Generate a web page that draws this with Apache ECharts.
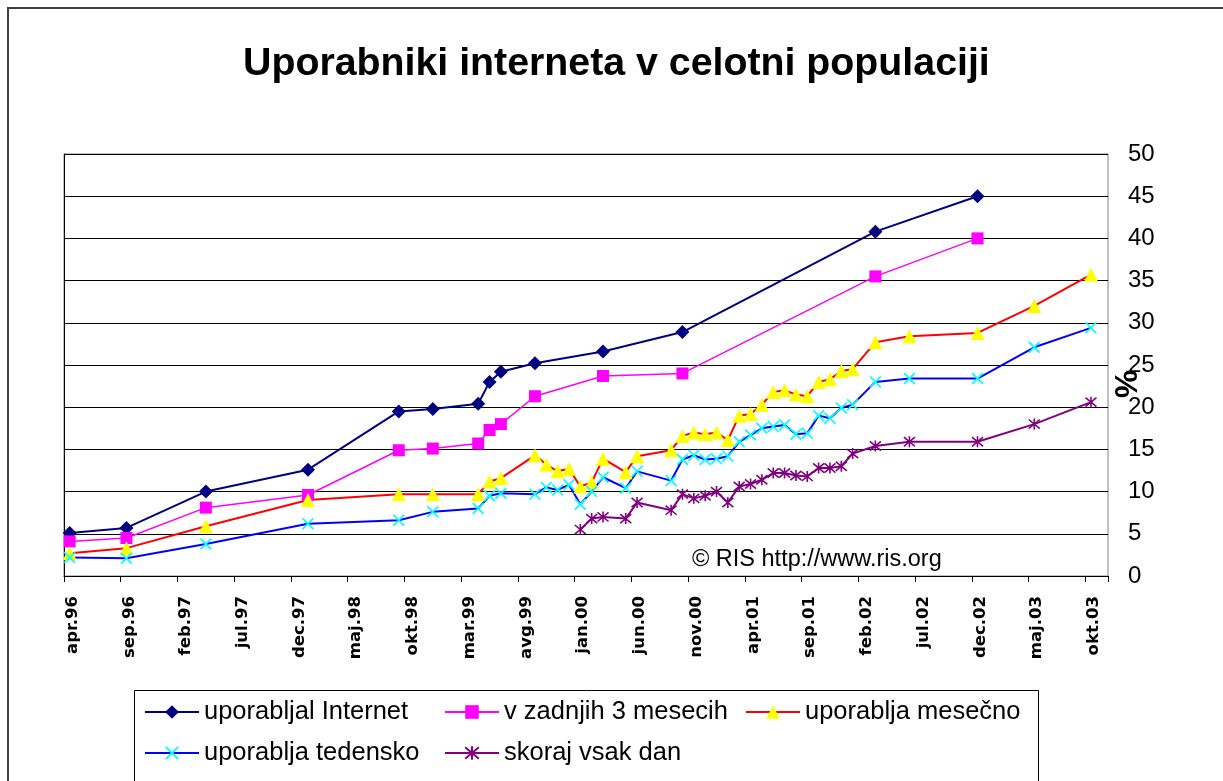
<!DOCTYPE html>
<html>
<head>
<meta charset="utf-8">
<script src="https://cdn.jsdelivr.net/npm/echarts@6/dist/echarts.min.js"></script>
<style>
html,body{margin:0;padding:0;background:#fff;}
#chart{width:1223px;height:781px;}
</style>
</head>
<body>
<div id="chart"></div>
<script>
// ---- data ----
var titleText = 'Uporabniki interneta v celotni populaciji';
var tickLabels = ['apr.96','sep.96','feb.97','jul.97','dec.97','maj.98','okt.98','mar.99','avg.99','jan.00','jun.00','nov.00','apr.01','sep.01','feb.02','jul.02','dec.02','maj.03','okt.03'];
var seriesNames = ['uporabljal Internet','v zadnjih 3 mesecih','uporablja mesečno','uporablja tedensko','skoraj vsak dan'];

var dates12 = ['1996-04','1996-09','1997-04','1998-01','1998-09','1998-12','1999-04','1999-05','1999-06','1999-09','2000-03','2000-10','2002-03','2002-12'];
var internet = [5.1, 5.7, 10.0, 12.6, 19.5, 19.8, 20.4, 23.0, 24.2, 25.2, 26.6, 28.9, 40.8, 45.0];
var zadnjih3 = [4.1, 4.5, 8.1, 9.6, 14.9, 15.1, 15.7, 17.3, 18.0, 21.3, 23.7, 24.0, 35.5, 40.0];

var dates34 = ['1996-04','1996-09','1997-04','1998-01','1998-09','1998-12','1999-04','1999-05','1999-06','1999-09',
  '1999-10','1999-11','1999-12','2000-01','2000-02','2000-03','2000-05','2000-06','2000-09','2000-10',
  '2000-11','2000-12','2001-01','2001-02','2001-03','2001-04','2001-05','2001-06','2001-07','2001-08',
  '2001-09','2001-10','2001-11','2001-12','2002-01','2002-03','2002-06','2002-12','2003-05','2003-10'];
var mesecno = [2.7, 3.3, 5.9, 9.0, 9.7, 9.7, 9.7, 11.2, 11.6, 14.3,
  13.2, 12.4, 12.7, 10.6, 11.1, 13.9, 12.3, 14.2, 14.9, 16.6,
  17.0, 16.8, 17.0, 16.1, 19.0, 19.2, 20.3, 21.8, 22.0, 21.5,
  21.3, 23.0, 23.3, 24.3, 24.5, 27.7, 28.4, 28.8, 32.0, 35.7];
var tedensko = [2.2, 2.1, 3.8, 6.2, 6.6, 7.6, 8.0, 9.5, 9.8, 9.7,
  10.5, 10.2, 10.8, 8.5, 10.0, 11.7, 10.4, 12.4, 11.3, 13.8,
  14.3, 13.8, 13.9, 14.2, 15.9, 16.7, 17.5, 17.7, 17.9, 16.8,
  16.9, 19.0, 18.7, 19.9, 20.3, 23.0, 23.4, 23.4, 27.1, 29.4];

var dates5 = ['2000-01','2000-02','2000-03','2000-05','2000-06','2000-09','2000-10','2000-11','2000-12','2001-01',
  '2001-02','2001-03','2001-04','2001-05','2001-06','2001-07','2001-08','2001-09','2001-10','2001-11',
  '2001-12','2002-01','2002-03','2002-06','2002-12','2003-05','2003-10'];
var vsakDan = [5.5, 6.8, 7.0, 6.8, 8.7, 7.8, 9.7, 9.2, 9.5, 10.0,
  8.7, 10.6, 10.9, 11.4, 12.2, 12.2, 11.9, 11.8, 12.8, 12.8,
  13.0, 14.5, 15.4, 15.9, 15.9, 18.0, 20.6];

// ---- helpers ----
// month index on the axis: 0 = start of apr.96, points sit mid-month
function monthIndex(d) {
  var p = d.split('-');
  return (parseInt(p[0], 10) - 1996) * 12 + (parseInt(p[1], 10) - 4) + 0.5;
}
function pairs(dates, vals) {
  return dates.map(function (d, i) { return [monthIndex(d), vals[i]]; });
}

var FONT = 'Arial, "Liberation Sans", Helvetica, sans-serif';
var xSym = 'path://M0,1L1,0L5,4L9,0L10,1L6,5L10,9L9,10L5,6L1,10L0,9L4,5Z';
var starSym = 'path://M0,0L10,10M10,0L0,10M5,-1L5,11';

function mkSeries(name, data, lineColor, lineWidth, symbol, symSize, symColor, extraItem) {
  var it = { color: symColor };
  if (extraItem) { for (var k in extraItem) it[k] = extraItem[k]; }
  return {
    name: name, type: 'line', data: data,
    symbol: symbol, symbolSize: symSize, showSymbol: true,
    lineStyle: { color: lineColor, width: lineWidth },
    itemStyle: it,
    emphasis: { disabled: true },
    animation: false
  };
}

var series = [
  mkSeries(seriesNames[0], pairs(dates12, internet), '#000080', 2, 'diamond', 14, '#000080'),
  mkSeries(seriesNames[1], pairs(dates12, zadnjih3), '#FF00FF', 1.5, 'rect', 12, '#FF00FF'),
  mkSeries(seriesNames[2], pairs(dates34, mesecno), '#FF0000', 2, 'triangle', 14, '#FFFF00'),
  mkSeries(seriesNames[3], pairs(dates34, tedensko), '#0000FF', 2, xSym, 12, '#00FFFF'),
  mkSeries(seriesNames[4], pairs(dates5, vsakDan), '#800080', 2, starSym, 11, '#800080', { borderColor: '#800080', borderWidth: 1.6 })
];

function legendAt(name, left, top) {
  return {
    data: [name], left: left, top: top, orient: 'horizontal', padding: 0,
    itemWidth: 54, itemHeight: 17, itemGap: 5, selectedMode: false,
    textStyle: { fontFamily: FONT, fontSize: 25.5, color: '#000', lineHeight: 26 }
  };
}

var chart = echarts.init(document.getElementById('chart'), null, { renderer: 'canvas' });
chart.setOption({
  backgroundColor: '#fff',
  animation: false,
  title: {
    text: titleText, left: 243, top: 44, padding: 0,
    textStyle: { fontFamily: FONT, fontSize: 39.3, fontWeight: 'bold', color: '#000', lineHeight: 40 }
  },
  grid: {
    left: 64, top: 154, right: 115, bottom: 205, containLabel: false,
    show: true, borderColor: '#808080', borderWidth: 1, backgroundColor: '#fff'
  },
  legend: [
    legendAt(seriesNames[0], 144, 699),
    legendAt(seriesNames[1], 444, 699),
    legendAt(seriesNames[2], 745, 699),
    legendAt(seriesNames[3], 144, 740),
    legendAt(seriesNames[4], 444, 740)
  ],
  xAxis: {
    type: 'value', min: 0, max: 92, interval: 5, position: 'bottom',
    axisLine: { show: true, onZero: false, lineStyle: { color: '#000', width: 1 } },
    axisTick: { show: true, length: 6, inside: false, lineStyle: { color: '#000' } },
    splitLine: { show: false },
    axisLabel: {
      show: true, rotate: 90, margin: 20, showMaxLabel: true,
      verticalAlign: 'top',
      fontFamily: '"DejaVu Sans", Verdana, sans-serif', fontSize: 16.5, fontWeight: 'bold', color: '#000',
      formatter: function (v) {
        var i = Math.round(v / 5);
        return (Math.abs(v - i * 5) < 1e-6 && i < tickLabels.length) ? tickLabels[i] : '';
      }
    }
  },
  yAxis: {
    type: 'value', min: 0, max: 50, interval: 5, position: 'right',
    axisLine: { show: true, lineStyle: { color: '#000', width: 1 } },
    axisTick: { show: true, length: 7, inside: false, lineStyle: { color: '#000' } },
    splitLine: { show: true, lineStyle: { color: '#000', width: 1 } },
    axisLabel: { margin: 20, fontFamily: FONT, fontSize: 24, color: '#000' }
  },
  graphic: [
    { type: 'rect', shape: { x: 8, y: 8, width: 1240, height: 800 }, style: { fill: 'none', stroke: '#404040', lineWidth: 2 }, silent: true, z: -10 },
    { type: 'rect', shape: { x: 134.5, y: 690.5, width: 904, height: 100 }, style: { fill: 'none', stroke: '#000', lineWidth: 1 }, silent: true },
    { type: 'text', x: 692, y: 560, style: { text: '© RIS http://www.ris.org', font: '23.5px ' + FONT, fill: '#000', align: 'left', verticalAlign: 'middle' }, silent: true, z: 100 },
    { type: 'text', x: 1124, y: 384, rotation: -Math.PI / 2, style: { text: '%', font: 'bold 32px ' + FONT, fill: '#000', align: 'center', verticalAlign: 'middle' }, silent: true, z: 100 }
  ],
  series: series
});
</script>
</body>
</html>
